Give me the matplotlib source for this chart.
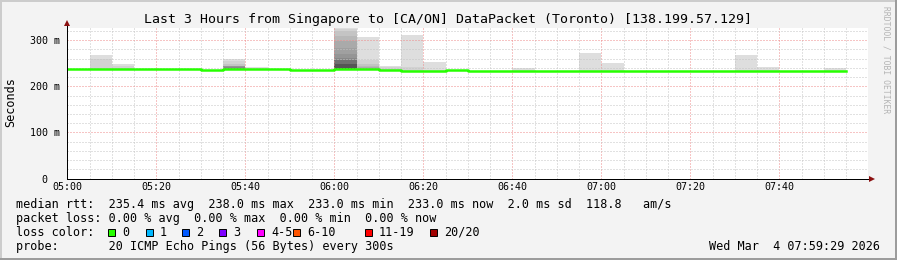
import matplotlib
matplotlib.use("Agg")
import matplotlib.pyplot as plt
from matplotlib.patches import Rectangle
from matplotlib.lines import Line2D

W, H, DPI = 897, 260, 100
MONO = "DejaVu Sans Mono"

# 5-minute rounds, minutes after 05:00
slot_start = list(range(0, 175, 5))
slot_len = 5

# median rtt per round (ms)
median_ms = [238, 238, 238, 238, 238, 238, 236, 238, 237, 237,
             236, 236, 238, 237, 235, 234, 234, 236, 234, 234,
             234, 234, 234, 234, 234, 234, 234, 234, 234, 234,
             234, 234, 234, 234, 233]

# pings above the median per round, highest first (drawn as smoke)
smoke_pings = [
    [], [267, 260], [249, 245], [], [], [], [], [260, 254, 249, 244, 244, 244, 243, 242],
    [242], [], [], [], [330, 325, 319, 310, 298, 283, 271, 262, 256, 249],
    [307, 257, 249, 245, 241], [245, 241], [311, 241], [253], [], [], [],
    [240], [], [], [272], [251], [], [], [], [], [], [267], [242], [], [], [239],
]

x_ticks = [0, 20, 40, 60, 80, 100, 120, 140, 160]
x_labels = ["05:00", "05:20", "05:40", "06:00", "06:20", "06:40", "07:00", "07:20", "07:40"]
y_ticks = [0, 100, 200, 300]
y_labels = ["0  ", "100 m", "200 m", "300 m"]

loss_labels = ["0", "1", "2", "3", "4-5", "6-10", "11-19", "20/20"]
loss_colors = ["#26ff00", "#00b8ff", "#0059ff", "#7e00ff", "#ff00ff", "#ff5500", "#ff0000", "#a10000"]
loss_box_x = [108, 146, 182, 219, 257, 293, 365, 430]

# gray level of each smoke band, outermost first
smoke_grays = [222, 210, 196, 184, 170, 160, 149, 136, 112, 85]

title = "Last 3 Hours from Singapore to [CA/ON] DataPacket (Toronto) [138.199.57.129]"
line_rtt = "median rtt:  235.4 ms avg  238.0 ms max  233.0 ms min  233.0 ms now  2.0 ms sd  118.8   am/s"
line_loss = "packet loss: 0.00 % avg  0.00 % max  0.00 % min  0.00 % now"
line_probe = "probe:       20 ICMP Echo Pings (56 Bytes) every 300s"
stamp = "Wed Mar  4 07:59:29 2026"


def fx(px):
    return px / W


def fy(py):
    return 1 - py / H


fig = plt.figure(figsize=(W / DPI, H / DPI), dpi=DPI, facecolor="#f3f3f3")
ax = fig.add_axes([fx(67.3), fy(178.6), (868.3 - 67.3) / W, (178.6 - 27.7) / H])
ax.set_facecolor("white")

# smoke: outer bands light, inner bands darker
for x0, med, pings in zip(slot_start, median_ms, smoke_pings):
    for g, top in zip(smoke_grays, pings):
        ax.bar(x0, top - (med - 1), bottom=med - 1, width=slot_len, align="edge",
               color=f"#{g:02x}{g:02x}{g:02x}", linewidth=0, zorder=1)

ax.step(slot_start + [slot_start[-1] + slot_len], median_ms + [median_ms[-1]],
        where="post", color="#26ff00", lw=1.8, zorder=3)

ax.set_xlim(0, 180)
ax.set_ylim(0, 327)
ax.set_xticks(x_ticks)
ax.set_xticklabels(x_labels)
ax.set_xticks(range(0, 180, 5), minor=True)
ax.set_yticks(y_ticks)
ax.set_yticklabels(y_labels)
ax.set_yticks(range(0, 327, 20), minor=True)
ax.tick_params(which="both", length=0)
ax.tick_params(axis="x", pad=2.6, labelsize=7.2)
ax.tick_params(axis="y", pad=5.6, labelsize=7.2)
for lab in ax.get_xticklabels() + ax.get_yticklabels():
    lab.set_family(MONO)

ax.set_axisbelow(False)
ax.grid(which="minor", color="#c4c4c4", linestyle=(0, (1, 2)), lw=0.72, zorder=2)
ax.grid(which="major", color="#ee8a8a", linestyle=(0, (1, 2)), lw=0.72, zorder=2)

for s in ("top", "right"):
    ax.spines[s].set_visible(False)
for s in ("left", "bottom"):
    ax.spines[s].set_color("black")
    ax.spines[s].set_linewidth(0.72)
    ax.spines[s].set_zorder(4)

# axis arrows
ax.plot([0, 0], [1, 1.03], transform=ax.transAxes, color="black", lw=0.72, clip_on=False)
ax.plot([0], [1.031], transform=ax.transAxes, marker="^", ms=4.5, color="#8b1010",
        clip_on=False, mew=0)
ax.plot([1, 1.004], [0, 0], transform=ax.transAxes, color="black", lw=0.72, clip_on=False)
ax.plot([1.0045], [0], transform=ax.transAxes, marker=">", ms=4.5, color="#8b1010",
        clip_on=False, mew=0)

fig.text(fx(448), fy(19), title, ha="center", va="center", family=MONO, fontsize=9.55)
fig.text(fx(11), fy(102), "Seconds", rotation=90, ha="center", va="center",
         family=MONO, fontsize=8.5)
fig.text(fx(886), fy(60), "RRDTOOL / TOBI OETIKER", rotation=270, ha="center",
         va="center", family=MONO, fontsize=5.8, color="#b4b4b4")

fig.text(fx(16), fy(204.3), line_rtt, ha="left", va="center", family=MONO, fontsize=8.5)
fig.text(fx(16), fy(218.3), line_loss, ha="left", va="center", family=MONO, fontsize=8.5)
fig.text(fx(16), fy(232.3), "loss color:", ha="left", va="center", family=MONO, fontsize=8.5)
for bx, lab, col in zip(loss_box_x, loss_labels, loss_colors):
    fig.add_artist(Rectangle((fx(bx), fy(235.8)), 7.3 / W, 7.3 / H, transform=fig.transFigure,
                             facecolor=col, edgecolor="black", lw=0.7))
    fig.text(fx(bx + 14), fy(232.3), lab, ha="left", va="center", family=MONO, fontsize=8.5)
fig.text(fx(16), fy(246.3), line_probe, ha="left", va="center", family=MONO, fontsize=8.5)
fig.text(fx(880), fy(246.3), stamp, ha="right", va="center", family=MONO, fontsize=8.5)

# frame around the image
for (x0, y0, x1, y1, c) in [(0, 1, W, 1, "#cccccc"), (1, 0, 1, H, "#cccccc"),
                            (0, H - 1, W, H - 1, "#9c9c9c"), (W - 1, 0, W - 1, H, "#9c9c9c")]:
    fig.add_artist(Line2D([fx(x0), fx(x1)], [fy(y0), fy(y1)], transform=fig.transFigure,
                          color=c, lw=1.44))

fig.savefig("out.png", dpi=DPI, facecolor=fig.get_facecolor())
plt.close(fig)
